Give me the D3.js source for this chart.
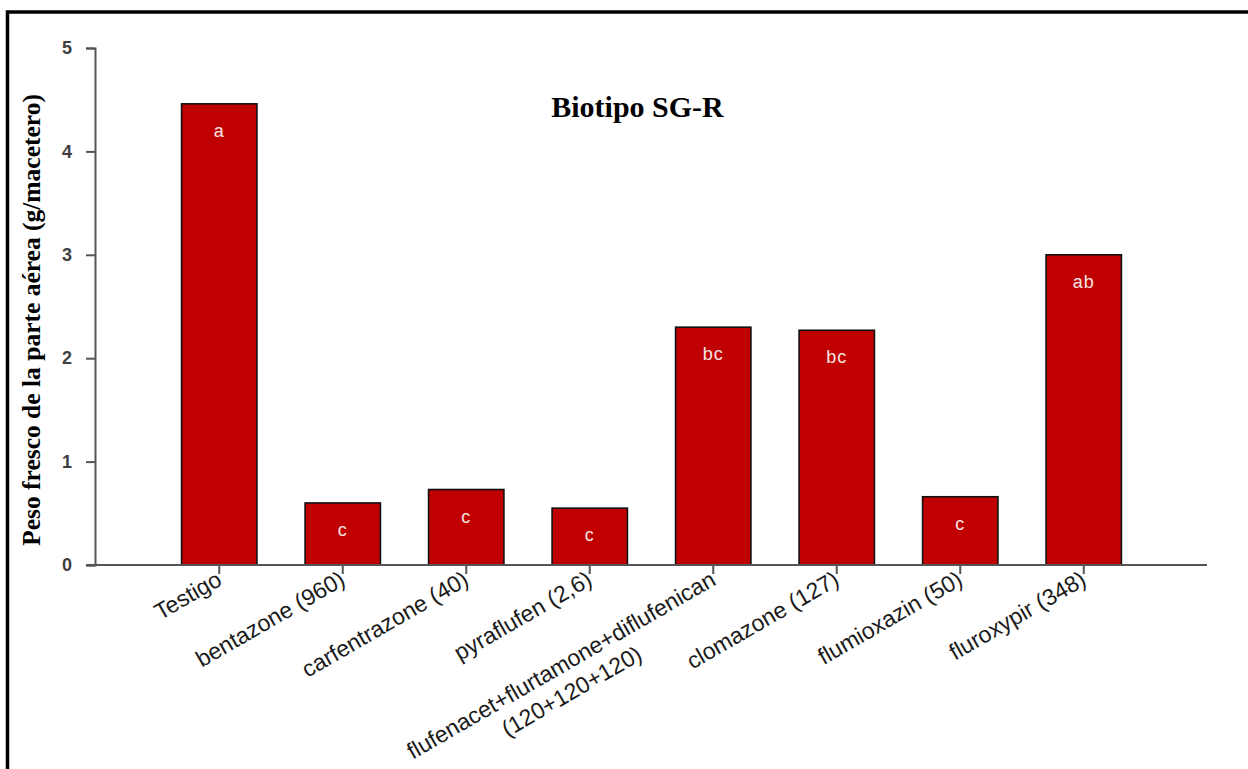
<!DOCTYPE html>
<html>
<head>
<meta charset="utf-8">
<script src="https://cdn.jsdelivr.net/npm/d3@7"></script>
<style>
  html, body { margin: 0; padding: 0; background: #fff; }
  svg { display: block; }
</style>
</head>
<body>
<svg id="chart" width="1248" height="769"></svg>
<script>
// Herbicide treatments (dose in g i.a./ha) and fresh shoot weight
const treatments = [
  ["Testigo"],
  ["bentazone (960)"],
  ["carfentrazone (40)"],
  ["pyraflufen (2,6)"],
  ["flufenacet+flurtamone+diflufenican", "(120+120+120)"],
  ["clomazone (127)"],
  ["flumioxazin (50)"],
  ["fluroxypir (348)"]
];
const freshWeight = [4.46, 0.60, 0.73, 0.55, 2.30, 2.27, 0.66, 3.00];
const groupLetters = ["a", "c", "c", "c", "bc", "bc", "c", "ab"];
const yTicks = [0, 1, 2, 3, 4, 5];

const titleText = "Biotipo SG-R";
const yLabel = "Peso fresco de la parte aérea (g/macetero)";

const svg = d3.select("#chart");

// frame around the figure
svg.append("rect")
  .attr("x", 7.5).attr("y", 12)
  .attr("width", 1400).attr("height", 900)
  .attr("fill", "none").attr("stroke", "#000").attr("stroke-width", 3.5);

const ids = treatments.map((d, i) => i);

const x = d3.scaleBand()
  .domain(ids)
  .range([157.5, 1145.5])
  .paddingInner(0.39)
  .paddingOuter(0.195);

const y = d3.scaleLinear().domain([0, 5]).range([565, 48]);

const axisColor = "#555";

// y axis
const yAxis = svg.append("g")
  .attr("transform", "translate(95,0)")
  .call(d3.axisLeft(y).tickValues(yTicks).tickFormat(d3.format("d")).tickSize(9).tickPadding(15));
yAxis.select(".domain").attr("stroke", axisColor).attr("stroke-width", 2);
yAxis.selectAll(".tick line").attr("stroke", axisColor).attr("stroke-width", 2);
yAxis.selectAll(".tick text")
  .attr("fill", "#404040")
  .style("font-family", "Arial, 'Liberation Sans', sans-serif")
  .style("font-size", "18px")
  .style("font-weight", "bold")
  .attr("text-anchor", "middle")
  .attr("dx", -4);

// bars
svg.append("g").selectAll("rect")
  .data(freshWeight)
  .join("rect")
  .attr("x", (d, i) => x(i))
  .attr("y", d => y(d))
  .attr("width", x.bandwidth())
  .attr("height", d => y(0) - y(d))
  .attr("fill", "#C00000")
  .attr("stroke", "#111")
  .attr("stroke-width", 1.6);

// x axis
const xAxis = svg.append("g")
  .attr("transform", `translate(0,${y(0)})`)
  .call(d3.axisBottom(x).tickSize(9).tickFormat(() => ""));
xAxis.select(".domain")
  .attr("d", `M86,0H1207`)
  .attr("stroke", axisColor).attr("stroke-width", 2);
xAxis.selectAll(".tick line").attr("stroke", axisColor).attr("stroke-width", 2);

// rotated category labels
const lbl = svg.append("g")
  .style("font-family", "Arial, 'Liberation Sans', sans-serif")
  .style("font-size", "23px")
  .attr("fill", "#1a1a1a");
treatments.forEach((lines, i) => {
  const cx = x(i) + x.bandwidth() / 2;
  const t = lbl.append("text")
    .attr("transform", `translate(${cx + 4},${y(0) + 19}) rotate(-30)`)
    .attr("text-anchor", "end");
  t.append("tspan").attr("x", 0).attr("y", 0).text(lines[0]);
  if (lines.length > 1) {
    // second line centred under the first
    const w1 = t.node().getComputedTextLength();
    t.append("tspan")
      .attr("x", -w1 / 2 - 4)
      .attr("y", 28)
      .attr("text-anchor", "middle")
      .text(lines[1]);
  }
});

// significance letters inside the bars
svg.append("g").selectAll("text")
  .data(groupLetters)
  .join("text")
  .attr("x", (d, i) => x(i) + x.bandwidth() / 2)
  .attr("y", (d, i) => y(freshWeight[i]) + 33)
  .attr("text-anchor", "middle")
  .attr("fill", "#f6e4e4")
  .style("font-family", "Arial, 'Liberation Sans', sans-serif")
  .style("font-size", "18px")
  .style("letter-spacing", "1px")
  .text(d => d);

// title
svg.append("text")
  .attr("x", 637.5).attr("y", 117)
  .attr("text-anchor", "middle")
  .style("font-family", "'Liberation Serif', 'Times New Roman', serif")
  .style("font-weight", "bold")
  .style("font-size", "30px")
  .attr("fill", "#000")
  .text(titleText);

// y-axis title
svg.append("text")
  .attr("transform", "translate(40,320) rotate(-90)")
  .attr("text-anchor", "middle")
  .style("font-family", "'Liberation Serif', 'Times New Roman', serif")
  .style("font-weight", "bold")
  .style("font-size", "25.5px")
  .attr("fill", "#000")
  .text(yLabel);
</script>
</body>
</html>
